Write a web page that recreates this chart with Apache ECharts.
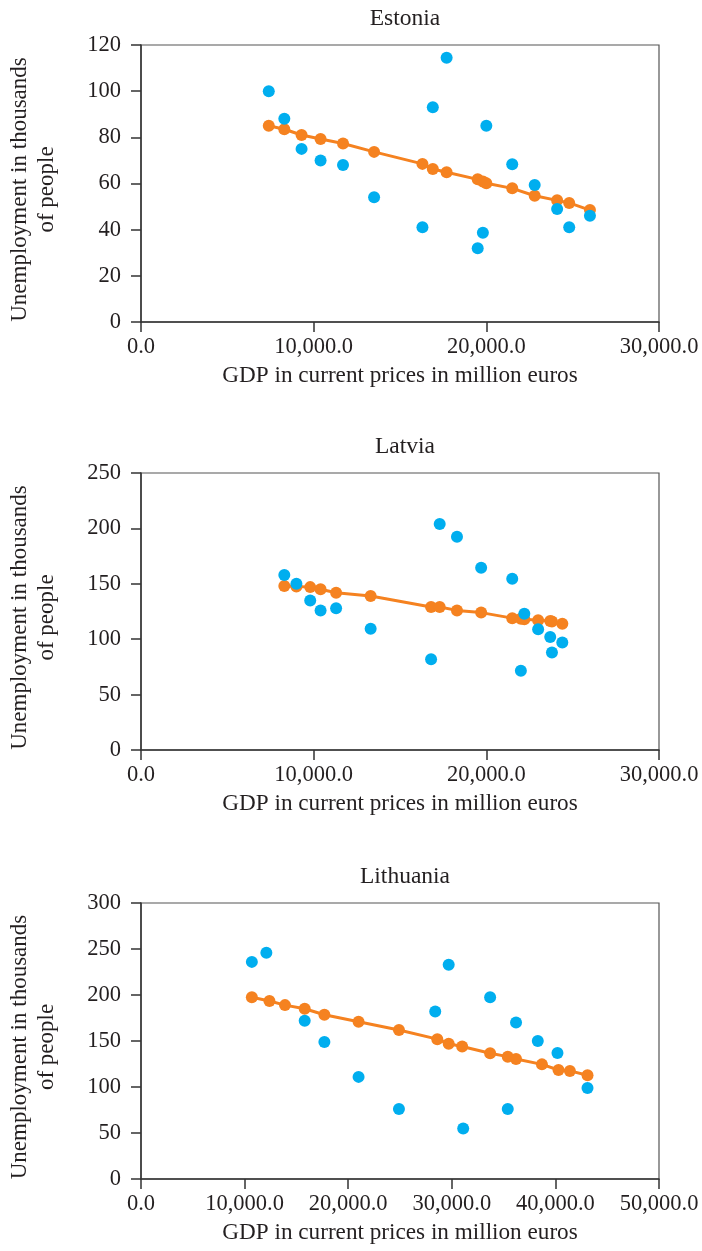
<!DOCTYPE html>
<html>
<head>
<meta charset="utf-8">
<script src="https://cdn.jsdelivr.net/npm/echarts@6/dist/echarts.min.js"></script>
<style>
html,body{margin:0;padding:0;background:#fff;}
#chart{width:702px;height:1251px;}
</style>
</head>
<body>
<div id="chart"></div>
<script>
// ---- Data (GDP in million euros, unemployment in thousands) ----
const countries = ["Estonia", "Latvia", "Lithuania"];

const estoniaActualX = [7400, 8300, 9300, 10400, 11700, 13500, 16300, 16900, 17700, 19500, 19800, 20000, 21500, 22800, 24100, 24800, 26000];
const estoniaActualY = [100, 88, 75, 70, 68, 54, 41, 93, 114.5, 32, 38.7, 85, 68.3, 59.4, 49, 41, 46];
const estoniaFitX = [7400, 8300, 9300, 10400, 11700, 13500, 16300, 16900, 17700, 19500, 19800, 20000, 21500, 22800, 24100, 24800, 26000];
const estoniaFitY = [85, 83.5, 81, 79.3, 77.3, 73.7, 68.5, 66.3, 64.9, 61.8, 60.9, 60.1, 57.9, 54.7, 52.7, 51.6, 48.5];

const latviaActualX = [8300, 9000, 9800, 10400, 11300, 13300, 16800, 17300, 18300, 19700, 21500, 22000, 22200, 23000, 23700, 23800, 24400];
const latviaActualY = [158, 150, 135, 126, 128, 109.5, 82, 204, 192.5, 164.5, 154.5, 71.5, 123, 109, 102, 88, 97];
const latviaFitX = [8300, 9000, 9800, 10400, 11300, 13300, 16800, 17300, 18300, 19700, 21500, 22000, 22200, 23000, 23700, 23800, 24400];
const latviaFitY = [148, 147.5, 147, 145, 142, 139, 129, 129, 126, 124, 119, 118.5, 118, 117, 116.5, 116, 114];

const lithuaniaActualX = [10700, 12100, 15800, 17700, 21000, 24900, 28400, 29700, 31100, 33700, 35400, 36200, 38300, 40200, 43100];
const lithuaniaActualY = [236, 246, 172, 149, 111, 76, 182, 233, 55, 197.5, 76, 170, 150, 137, 99];
const lithuaniaFitX = [10700, 12400, 13900, 15800, 17700, 21000, 24900, 28600, 29700, 31000, 33700, 35400, 36200, 38700, 40300, 41400, 43100];
const lithuaniaFitY = [197.5, 193.5, 189, 185, 178.6, 171, 162, 152, 147, 144, 136.6, 133, 130.5, 124.6, 118.5, 117.5, 112.7];

// axis ranges / ticks
const xMax = [30000, 30000, 50000];
const xStep = 10000;
const yMax = [120, 250, 300];
const yStep = [20, 50, 50];

const xAxisTitle = "GDP in current prices in million euros";
const yAxisTitle = "Unemployment in thousands\nof people";

// ---- Styling / layout ----
const FONT = "Liberation Serif";
const TXT = "#231f20";
const BLUE = "#00AEEF";
const ORANGE = "#F58220";
const gridTops = [45, 473, 903];
const gridHeights = [277, 277, 276];
const titleTops = [2, 430, 860];

const actualX = [estoniaActualX, latviaActualX, lithuaniaActualX];
const actualY = [estoniaActualY, latviaActualY, lithuaniaActualY];
const fitX = [estoniaFitX, latviaFitX, lithuaniaFitX];
const fitY = [estoniaFitY, latviaFitY, lithuaniaFitY];

function zip(xs, ys) { return xs.map((x, i) => [x, ys[i]]); }
function fmtX(v) {
  return v.toLocaleString('en-US', {minimumFractionDigits: 1, maximumFractionDigits: 1});
}

const option = {
  backgroundColor: "#fff",
  animation: false,
  title: [],
  grid: [],
  xAxis: [],
  yAxis: [],
  series: []
};

countries.forEach((name, i) => {
  option.title.push({
    text: name,
    left: 400,
    textAlign: 'center',
    top: titleTops[i],
    textStyle: {fontFamily: FONT, fontSize: 23.5, fontWeight: 'normal', color: TXT}
  });
  option.grid.push({
    left: 141, right: 43, top: gridTops[i], height: gridHeights[i],
    outerBoundsMode: 'none', containLabel: false,
    show: true, borderColor: '#555', borderWidth: 1.2, backgroundColor: 'transparent'
  });
  option.xAxis.push({
    type: 'value', gridIndex: i, min: 0, max: xMax[i], interval: xStep,
    name: xAxisTitle, nameLocation: 'middle', nameGap: 42,
    nameTextStyle: {fontFamily: FONT, fontSize: 23.2, color: TXT},
    axisLine: {show: true, lineStyle: {color: '#333', width: 1.5}},
    axisTick: {show: true, length: 10, lineStyle: {color: '#333', width: 1.5}},
    axisLabel: {fontFamily: FONT, fontSize: 22.5, color: TXT, margin: 14, formatter: fmtX, showMinLabel: true, showMaxLabel: true},
    splitLine: {show: false}
  });
  option.yAxis.push({
    type: 'value', gridIndex: i, min: 0, max: yMax[i], interval: yStep[i],
    name: yAxisTitle, nameLocation: 'middle', nameGap: 81, nameRotate: 90,
    nameTextStyle: {fontFamily: FONT, fontSize: 23, color: TXT, lineHeight: 27, align: 'center', padding: [0, 12, 0, 0]},
    axisLine: {show: true, lineStyle: {color: '#333', width: 1.5}},
    axisTick: {show: true, length: 10, lineStyle: {color: '#333', width: 1.5}},
    axisLabel: {fontFamily: FONT, fontSize: 22.5, color: TXT, margin: 20},
    splitLine: {show: false}
  });
  option.series.push({
    type: 'line', xAxisIndex: i, yAxisIndex: i,
    data: zip(fitX[i], fitY[i]),
    symbol: 'circle', symbolSize: 12, showSymbol: true,
    lineStyle: {color: ORANGE, width: 3},
    itemStyle: {color: ORANGE},
    z: 2
  });
  option.series.push({
    type: 'scatter', xAxisIndex: i, yAxisIndex: i,
    data: zip(actualX[i], actualY[i]),
    symbol: 'circle', symbolSize: 12,
    itemStyle: {color: BLUE, opacity: 1},
    z: 3
  });
});

const chart = echarts.init(document.getElementById('chart'), null, {renderer: 'canvas'});
chart.setOption(option);
</script>
</body>
</html>
